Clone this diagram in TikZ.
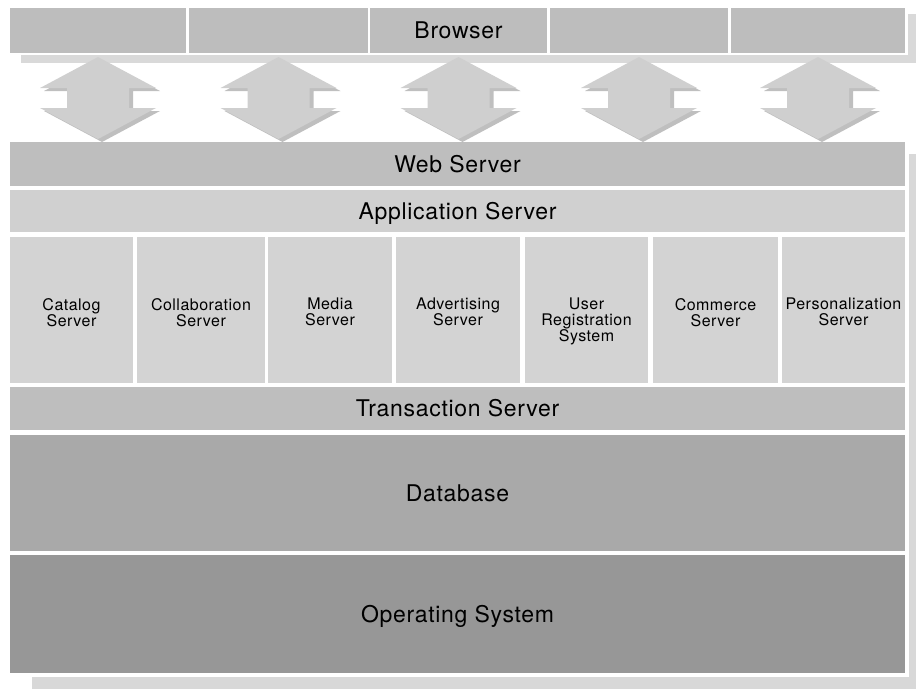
\documentclass[tikz,border=0pt]{standalone}
\usepackage{fontspec}
\setmainfont{TeX Gyre Heros}
\newfontfamily\layerfont[LetterSpace=3]{TeX Gyre Heros}
\usetikzlibrary{shadows}
\definecolor{browsergray}{HTML}{BDBDBD}
\definecolor{webgray}{HTML}{BEBEBE}
\definecolor{appgray}{HTML}{D0D0D0}
\definecolor{servergray}{HTML}{D3D3D3}
\definecolor{dbgray}{HTML}{A9A9A9}
\definecolor{osgray}{HTML}{979797}
\definecolor{arrowgray}{HTML}{CFCFCF}
\definecolor{panelgray}{HTML}{D8D8D8}

\begin{document}
\begin{tikzpicture}[x=1pt, y=-1pt,
  layer/.style={fill=#1, inner sep=0, outer sep=0,
    font=\layerfont\fontsize{23}{26}\selectfont,
    text height=16.5pt, text depth=0pt},
  colbox/.style={fill=servergray, inner sep=0, outer sep=0,
    minimum height=146pt},
  coltext/.style={inner sep=0, align=center, anchor=north,
    font=\layerfont\fontsize{16}{16}\selectfont}]
  \useasboundingbox (0,0) rectangle (916,689);
  % Shadow panel and white backing
  \fill[panelgray] (32,154) rectangle (916,689);
  \fill[white] (6,138) rectangle (909,677);
  \fill[white, drop shadow={shadow xshift=14pt, shadow yshift=-8pt, opacity=.3}]
    (7,6) rectangle (908,55);
  % Browser row
  \foreach \x/\w [count=\i] in {98/176, 278.5/179, 458.5/177, 639/178, 818/174}
    \node[layer=browsergray, minimum width=\w pt, minimum height=45pt] (b\i) at (\x,30.5) {};
  \node[font=\layerfont\fontsize{23}{26}\selectfont] (browser) at (b3) {Browser};
  % Layers
  \node[layer=webgray, minimum width=895pt, minimum height=44pt] (web) at (457.5,164) {Web Server};
  \node[layer=appgray, minimum width=895pt, minimum height=42pt] (app) at (457.5,211) {Application Server};
  \node[layer=webgray, minimum width=895pt, minimum height=43pt] (trans) at (457.5,408.5) {Transaction Server};
  \node[layer=dbgray, minimum width=895pt, minimum height=116pt] (db) at (457.5,493) {Database};
  \node[layer=osgray, minimum width=895pt, minimum height=118pt] (os) at (457.5,614) {Operating System};
  % Server columns
  \foreach \x/\w/\t [count=\i] in {71.5/123/{Catalog\\Server},
      201/128/{Collaboration\\Server}, 330/124/{Media\\Server},
      458/124/{Advertising\\Server}, 586.5/123/{User\\Registration\\System},
      715.5/125/{Commerce\\Server}, 843.5/123/{Personalization\\Server}} {
    \node[colbox, minimum width=\w pt] (c\i) at (\x,310) {};
    \node[coltext] (t\i) at ([yshift=-61pt]c\i.north) {\t};
  }
  % Double arrows
  \foreach \i in {1,...,5}
    \fill[arrowgray, drop shadow={shadow xshift=4pt, shadow yshift=-3pt, opacity=.5}]
      ([yshift=-4pt]b\i.south) -- ++(58,31) -- ++(-27,0) -- ++(0,20) -- ++(27,0)
      -- ([yshift=3pt]web.north -| b\i.south) -- ++(-58,-31) -- ++(27,0)
      -- ++(0,-20) -- ++(-27,0) -- cycle;
\end{tikzpicture}
\end{document}
